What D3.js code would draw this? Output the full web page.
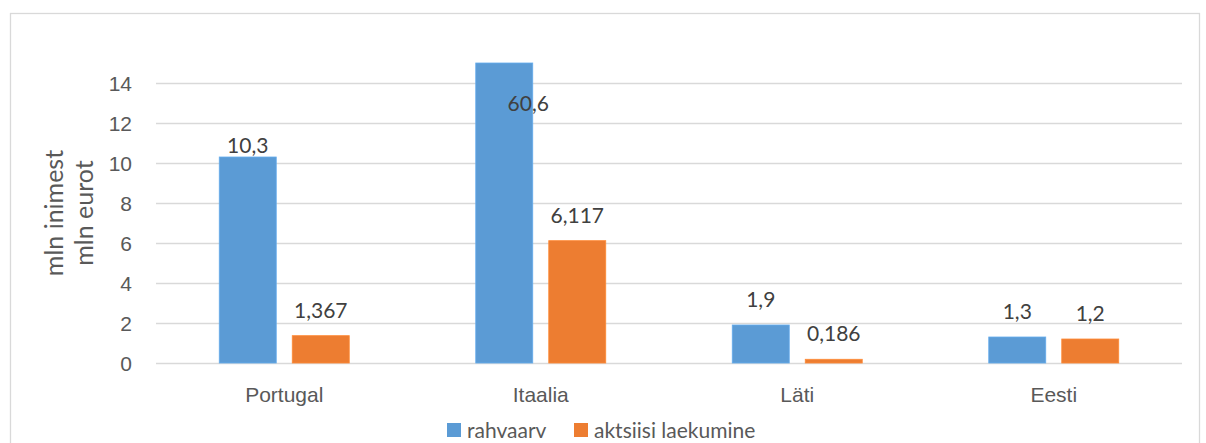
<!DOCTYPE html>
<html>
<head>
<meta charset="utf-8">
<script src="https://cdn.jsdelivr.net/npm/d3@7"></script>
<style>
  body { margin: 0; background: #fff; }
  svg { font-family: Lato, "Open Sans", sans-serif; }
</style>
</head>
<body>
<svg id="chart"></svg>
<script>
const categories = ["Portugal", "Itaalia", "Läti", "Eesti"];
const seriesNames = ["rahvaarv", "aktsiisi laekumine"];
const population = [10.3, 60.6, 1.9, 1.3];
const exciseRevenue = [1.367, 6.117, 0.186, 1.2];
const yTicks = [0, 2, 4, 6, 8, 10, 12, 14];
const colors = ["#5B9BD5", "#ED7D31"];

const width = 1206, height = 443;
const margin = { top: 63, right: 24, bottom: 80, left: 156 };
const innerW = width - margin.left - margin.right;
const innerH = height - margin.top - margin.bottom;
const fontSize = "21px";

const svg = d3.select("#chart").attr("width", width).attr("height", height);

svg.append("rect")
    .attr("x", 10.5).attr("y", 13.5)
    .attr("width", 1189).attr("height", 460)
    .attr("fill", "none")
    .attr("stroke", "#d9d9d9")
    .attr("stroke-width", 1.3);

const g = svg.append("g").attr("transform", `translate(${margin.left},${margin.top})`);

const x = d3.scaleBand().domain(categories).range([0, innerW]);
const xs = d3.scaleBand().domain(seriesNames).range([-36.5 - 28.5, 36.5 + 28.5]).paddingInner(16 / 73);
const y = d3.scaleLinear().domain([0, 15]).range([innerH, 0]).clamp(true);

// gridlines
g.append("g")
    .selectAll("line")
    .data(yTicks)
    .join("line")
    .attr("x1", 0).attr("x2", innerW)
    .attr("y1", d => Math.round(y(d)) + 0.5).attr("y2", d => Math.round(y(d)) + 0.5)
    .attr("stroke", "#d9d9d9")
    .attr("stroke-width", 1.3);

// y axis
const yAxis = g.append("g")
    .attr("transform", "translate(-24,0)")
    .call(d3.axisLeft(y).tickValues(yTicks).tickSize(0).tickPadding(0));
yAxis.select(".domain").remove();
yAxis.selectAll("text")
    .attr("fill", "#595959")
    .style("font-size", fontSize)
    .attr("dy", "0.35em");

// x axis
const xAxis = g.append("g")
    .attr("transform", `translate(0,${innerH})`)
    .call(d3.axisBottom(x).tickSize(0).tickPadding(0));
xAxis.select(".domain").remove();
xAxis.selectAll("text")
    .attr("fill", "#595959")
    .style("font-size", fontSize)
    .attr("y", 39)
    .attr("dy", 0);

const rows = categories.map((c, i) => ({
    category: c,
    values: [
        { series: seriesNames[0], value: population[i], color: colors[0] },
        { series: seriesNames[1], value: exciseRevenue[i], color: colors[1] }
    ]
}));

const groups = g.selectAll(".cat")
    .data(rows)
    .join("g")
    .attr("class", "cat")
    .attr("transform", d => `translate(${x(d.category) + x.bandwidth() / 2},0)`);

groups.selectAll("rect")
    .data(d => d.values)
    .join("rect")
    .attr("x", d => xs(d.series))
    .attr("width", xs.bandwidth())
    .attr("y", d => y(d.value))
    .attr("height", d => innerH - y(d.value))
    .attr("fill", d => d.color)
    .attr("stroke", d => d3.color(d.color).brighter(0.3))
    .attr("stroke-width", 0.8);

const fmt = v => String(v).replace(".", ",");

groups.selectAll(".label")
    .data(d => d.values.map(v => ({ ...v, category: d.category })))
    .join("text")
    .attr("class", "label")
    .attr("text-anchor", "middle")
    .attr("fill", "#404040")
    .style("font-size", fontSize)
    .attr("x", d => {
        const cx = xs(d.series) + xs.bandwidth() / 2;
        return d.value > y.domain()[1] ? cx + 24 : cx;
    })
    .attr("y", d => {
        if (d.value > y.domain()[1]) return y(d.value) + 48;
        if (d.category === "Portugal" && d.series === seriesNames[0]) return y(d.value) - 4;
        return y(d.value) - 18;
    })
    .text(d => fmt(d.value));

// y axis title
const yTitle = svg.append("text")
    .attr("transform", `translate(0,${margin.top + innerH / 2}) rotate(-90)`)
    .attr("text-anchor", "middle")
    .attr("fill", "#595959")
    .style("font-size", "25px");
yTitle.append("tspan").attr("x", 0).attr("y", 63).text("mln inimest");
yTitle.append("tspan").attr("x", 0).attr("y", 93).text("mln eurot");

// legend (sits at the very bottom edge, as in the original)
const legend = svg.append("g").attr("transform", "translate(447,423)");
const legendX = [0, 127];
seriesNames.forEach((name, i) => {
    const item = legend.append("g").attr("transform", `translate(${legendX[i]},0)`);
    item.append("rect").attr("width", 14).attr("height", 14).attr("fill", colors[i]);
    item.append("text")
        .attr("x", 20).attr("y", 15)
        .attr("fill", "#595959")
        .style("font-size", "21px")
        .text(name);
});
</script>
</body>
</html>
